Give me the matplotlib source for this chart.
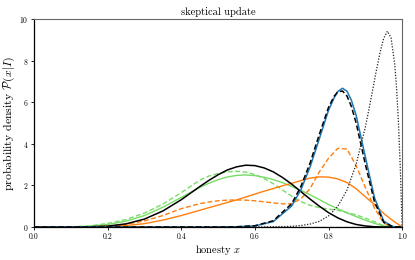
import matplotlib
matplotlib.use("Agg")
import matplotlib.pyplot as plt

plt.rcParams["font.family"] = "serif"
plt.rcParams["font.serif"] = ["cmr10"]
plt.rcParams["mathtext.fontset"] = "cm"
plt.rcParams["axes.formatter.use_mathtext"] = True

# values

# broad curves, shared grid
x_broad = [0.0, 0.1, 0.15, 0.2, 0.25, 0.3, 0.35, 0.4, 0.45, 0.475, 0.5, 0.525, 0.55,
           0.575, 0.6, 0.625, 0.65, 0.675, 0.7, 0.725, 0.75, 0.775, 0.8, 0.825,
           0.85, 0.875, 0.9, 0.925, 0.95, 0.975, 1.0]

black_solid = [0.0, 0.0, 0.01, 0.04, 0.15, 0.38, 0.77, 1.31, 1.94, 2.24, 2.51, 2.74, 2.89,
               2.97, 2.95, 2.84, 2.65, 2.38, 2.06, 1.70, 1.34, 1.00, 0.69, 0.44,
               0.25, 0.12, 0.05, 0.01, 0.0, 0.0, 0.0]

green_solid = [0.0, 0.0, 0.03, 0.12, 0.28, 0.55, 0.95, 1.42, 1.90, 2.10, 2.28, 2.40, 2.48,
               2.50, 2.47, 2.39, 2.28, 2.13, 1.95, 1.76, 1.55, 1.32, 1.08, 0.88,
               0.68, 0.50, 0.33, 0.17, 0.05, 0.01, 0.0]

green_dashed = [0.0, 0.01, 0.05, 0.17, 0.36, 0.67, 1.10, 1.65, 2.25, 2.45, 2.57, 2.65, 2.68,
                2.64, 2.52, 2.33, 2.08, 1.78, 1.48, 1.22, 1.04, 0.93, 0.86, 0.80,
                0.70, 0.58, 0.43, 0.25, 0.06, 0.0, 0.0]

orange_solid = [0.0, 0.0, 0.0, 0.03, 0.07, 0.16, 0.33, 0.55, 0.80, 0.93, 1.05, 1.18, 1.30,
                1.44, 1.58, 1.72, 1.85, 1.98, 2.10, 2.23, 2.35, 2.41, 2.40, 2.31,
                2.14, 1.84, 1.45, 1.08, 0.65, 0.30, 0.0]

orange_dashed = [0.0, 0.0, 0.01, 0.04, 0.13, 0.29, 0.55, 0.88, 1.12, 1.20, 1.26, 1.29, 1.30,
                 1.29, 1.26, 1.21, 1.16, 1.11, 1.12, 1.35, 1.85, 2.65, 3.30, 3.78,
                 3.75, 2.95, 1.90, 0.90, 0.18, 0.02, 0.0]

zero_dashed = [0.0] * len(x_broad)

# narrow curves around 0.84
x_narrow = [0.0, 0.5, 0.55, 0.6, 0.65, 0.7, 0.725, 0.75, 0.775, 0.8, 0.815, 0.825, 0.838,
            0.85, 0.862, 0.875, 0.9, 0.925, 0.95, 0.975, 1.0]

blue_solid = [0.0, 0.0, 0.01, 0.05, 0.26, 1.01, 1.79, 2.89, 4.24, 5.61, 6.20, 6.51, 6.67,
              6.53, 6.10, 5.37, 3.37, 1.40, 0.28, 0.01, 0.0]

black_dashed = [0.0, 0.0, 0.01, 0.06, 0.30, 1.12, 1.95, 3.08, 4.45, 5.75, 6.28, 6.49, 6.54,
                6.30, 5.80, 5.00, 3.02, 1.20, 0.22, 0.01, 0.0]

# sharp curve near 0.96
x_sharp = [0.0, 0.6, 0.65, 0.7, 0.725, 0.75, 0.775, 0.8, 0.825, 0.85, 0.875, 0.9, 0.91,
           0.92, 0.93, 0.94, 0.95, 0.96, 0.97, 0.98, 0.985, 0.99, 0.995, 1.0]

black_dotted = [0.0, 0.0, 0.01, 0.03, 0.07, 0.14, 0.27, 0.53, 0.99, 1.77, 3.01, 4.80, 5.67,
                6.60, 7.53, 8.39, 9.08, 9.41, 9.09, 7.80, 6.64, 5.01, 2.84, 0.0]

fig = plt.figure(figsize=(4.15, 2.6), dpi=100)
ax = fig.add_axes([0.082, 0.127, 0.887, 0.8])

lw = 1.0
dash = (0, (3.5, 1.8))
ax.plot(x_broad, zero_dashed, color="#8a9bb0", lw=lw, ls=dash)
ax.plot(x_broad, green_solid, color="#77dd66", lw=lw)
ax.plot(x_broad, green_dashed, color="#77dd66", lw=lw, ls=dash)
ax.plot(x_broad, orange_solid, color="#ff7f0e", lw=lw)
ax.plot(x_broad, orange_dashed, color="#ff7f0e", lw=lw, ls=dash)
ax.plot(x_broad, black_solid, color="k", lw=1.1)
ax.plot(x_narrow, blue_solid, color="#1f77b4", lw=1.1)
ax.plot(x_narrow, black_dashed, color="k", lw=1.1, ls=dash)
ax.plot(x_sharp, black_dotted, color="#222222", lw=0.9, ls=(0, (1, 1.3)))

ax.set_xlim(0, 1)
ax.set_ylim(0, 10)
ax.set_xticks([0.0, 0.2, 0.4, 0.6, 0.8, 1.0])
ax.set_xticklabels(["0.0", "0.2", "0.4", "0.6", "0.8", "1.0"])
ax.set_yticks([0, 2, 4, 6, 8, 10])
ax.tick_params(labelsize=5.5, length=2, width=0.6, pad=2)
for side in ["left", "bottom"]:
    ax.spines[side].set_color("k")
    ax.spines[side].set_linewidth(0.9)
for side in ["top", "right"]:
    ax.spines[side].set_color("0.4")
    ax.spines[side].set_linewidth(0.8)

ax.set_title("skeptical update", fontsize=7.5, pad=3)
ax.set_xlabel("honesty $x$", fontsize=7.5)
ax.set_ylabel(r"probability density $\mathcal{P}(x|I)$", fontsize=8.5)
ax.xaxis.set_label_coords(0.5, -0.075)
ax.yaxis.set_label_coords(-0.045, 0.5)

fig.savefig("out.png", dpi=100)
